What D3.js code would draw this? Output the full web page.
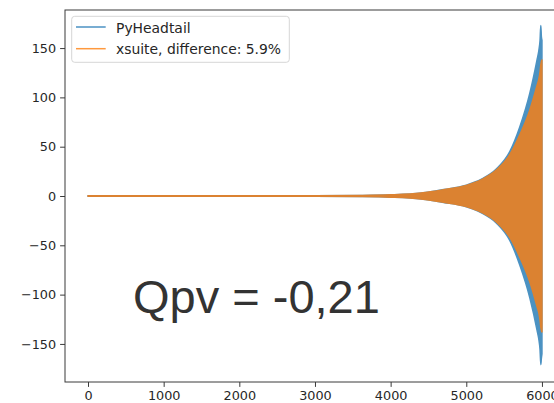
<!DOCTYPE html>
<html>
<head>
<meta charset="utf-8">
<script src="https://cdn.jsdelivr.net/npm/d3@7"></script>
<style>
  html, body { margin: 0; padding: 0; background: #fff; }
  svg { display: block; }
</style>
</head>
<body>
<script>
// ---- data (envelope of the oscillating signals) ----
const turns        = [0, 1000, 2000, 3000, 3600, 4000, 4400, 4700, 5000, 5200, 5400, 5575, 5707, 5839, 5935, 5960, 5975, 5985, 5992, 6000];
const blueUpper    = [0.3, 0.3, 0.3, 0.35, 0.6, 1.2, 3, 6.5, 11, 17, 27.5, 45, 70, 104, 138, 148, 158, 173, 162, 158];
const blueLower    = [-0.3, -0.3, -0.3, -0.35, -0.6, -1.2, -3, -6.5, -11, -17, -27.5, -45, -70, -103, -136, -146, -156, -171, -165, -160];
const orangeUpper  = [0.3, 0.3, 0.3, 0.35, 0.6, 1.2, 3, 6.4, 10.8, 16.6, 26.5, 42, 62, 87, 112, 119, 126, 133, 136, 138];
const orangeLower  = [-0.3, -0.3, -0.3, -0.35, -0.6, -1.2, -3, -6.4, -10.8, -16.6, -26.5, -42, -62, -87, -112, -119, -126, -133, -136, -138];
const xTicks = [0, 1000, 2000, 3000, 4000, 5000, 6000];
const yTicks = [-150, -100, -50, 0, 50, 100, 150];
const seriesNames = ["PyHeadtail", "xsuite, difference: 5.9%"];
const seriesColors = ["#1f77b4", "#ff7f0e"];
const annotation = "Qpv = -0,21";

// ---- layout ----
const W = 554, H = 403;
const plot = { left: 65, right: 571, top: 10, bottom: 382 };

const svg = d3.select("body").append("svg").attr("width", W).attr("height", H);

const x = d3.scaleLinear().domain([-304, 6384]).range([plot.left, plot.right]);
const y = d3.scaleLinear().domain([-188.6, 188.6]).range([plot.bottom, plot.top]);

svg.append("defs").append("clipPath").attr("id", "clip")
  .append("rect").attr("x", plot.left).attr("y", plot.top)
  .attr("width", plot.right - plot.left).attr("height", plot.bottom - plot.top);

const dataPyh = turns.map((t, i) => ({ t, lo: blueLower[i], hi: blueUpper[i] }));
const dataXs  = turns.map((t, i) => ({ t, lo: orangeLower[i], hi: orangeUpper[i] }));

const area = d3.area()
  .x(d => x(d.t)).y0(d => y(d.lo)).y1(d => y(d.hi))
  .curve(d3.curveMonotoneX);

const gData = svg.append("g").attr("clip-path", "url(#clip)");
[dataPyh, dataXs].forEach((data, i) => {
  gData.append("g").attr("opacity", 0.8)
    .append("path")
    .attr("d", area(data))
    .attr("fill", seriesColors[i])
    .attr("stroke", seriesColors[i])
    .attr("stroke-width", 1.5)
    .attr("stroke-linejoin", "round");
});

// ---- axes ----
const tickFont = "DejaVu Sans, sans-serif";
const xAxis = svg.append("g").attr("transform", `translate(0,${plot.bottom})`)
  .call(d3.axisBottom(x).tickValues(xTicks).tickFormat(d3.format("d")).tickSize(4.9).tickPadding(4));
const yAxis = svg.append("g").attr("transform", `translate(${plot.left},0)`)
  .call(d3.axisLeft(y).tickValues(yTicks).tickFormat(d => d < 0 ? "\u2212" + Math.abs(d) : d).tickSize(4.9).tickPadding(4));
[xAxis, yAxis].forEach(g => {
  g.select(".domain").remove();
  g.selectAll(".tick line").attr("stroke", "#3a3a3a").attr("stroke-width", 1);
  g.selectAll(".tick text").attr("fill", "#262626").style("font-family", tickFont).style("font-size", "12.8px");
});

// spines
svg.append("rect")
  .attr("x", plot.left).attr("y", plot.top)
  .attr("width", plot.right - plot.left).attr("height", plot.bottom - plot.top)
  .attr("fill", "none").attr("stroke", "#3a3a3a").attr("stroke-width", 1);

// ---- legend ----
const leg = svg.append("g");
leg.append("rect")
  .attr("x", 71.7).attr("y", 16.3).attr("width", 217.6).attr("height", 46)
  .attr("rx", 3).attr("fill", "#fff").attr("fill-opacity", 0.8)
  .attr("stroke", "#d6d6d6").attr("stroke-width", 1);
seriesNames.forEach((name, i) => {
  const cy = 27 + i * 21.7;
  leg.append("line").attr("x1", 76).attr("x2", 105.7).attr("y1", cy).attr("y2", cy)
    .attr("stroke", seriesColors[i]).attr("stroke-opacity", 0.8).attr("stroke-width", 1.5);
  leg.append("text").attr("x", 116).attr("y", cy + 5.6)
    .attr("fill", "#262626").style("font-family", tickFont).style("font-size", "13.9px")
    .text(name);
});

// ---- annotation ----
svg.append("text")
  .attr("x", 133).attr("y", 313.3)
  .attr("fill", "#333")
  .style("font-family", "Liberation Sans, Arial, sans-serif")
  .style("font-size", "47px")
  .text(annotation);
</script>
</body>
</html>
